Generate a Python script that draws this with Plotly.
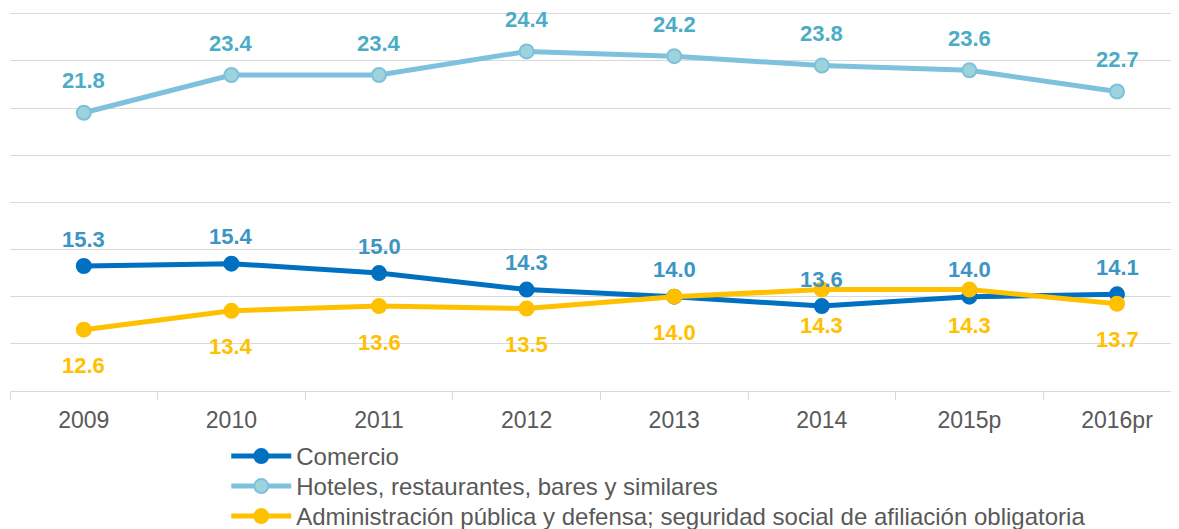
import plotly.graph_objects as go

# categorías y series
years = ["2009", "2010", "2011", "2012", "2013", "2014", "2015p", "2016pr"]
comercio = [15.3, 15.4, 15.0, 14.3, 14.0, 13.6, 14.0, 14.1]
hoteles = [21.8, 23.4, 23.4, 24.4, 24.2, 23.8, 23.6, 22.7]
administracion = [12.6, 13.4, 13.6, 13.5, 14.0, 14.3, 14.3, 13.7]

FONT = "Liberation Sans, Arial, sans-serif"
LABEL_SIZE = 22
TEXT_COLOR = "#595959"

# (nombre, valores, color línea, relleno marcador, color etiqueta, desplazamiento etiqueta, leyenda)
series = [
    ("Hoteles, restaurantes, bares y similares", hoteles,
     "#7EC1DD", "#9DD3DA", "#4BACC6", 32, "legend2"),
    ("Comercio", comercio,
     "#0070C0", "#0070C0", "#3D95C4", 27, "legend"),
    ("Administración pública y defensa; seguridad social de afiliación obligatoria",
     administracion, "#FFC000", "#FFC000", "#FFC000", -36, "legend3"),
]

fig = go.Figure()

for name, values, line_color, fill, label_color, shift, legend in series:
    fig.add_trace(go.Scatter(
        x=years, y=values,
        mode="lines+markers",
        name=name,
        legend=legend,
        line=dict(color=line_color, width=5),
        marker=dict(size=14, color=fill, line=dict(color=line_color, width=2)),
        cliponaxis=False,
    ))
    # etiquetas de datos (posición por índice de categoría: "2009" se leería como número)
    for i, v in enumerate(values):
        fig.add_annotation(
            x=i, y=v, text=f"{v:.1f}", showarrow=False,
            yshift=shift, yanchor="middle",
            font=dict(family=FONT, size=LABEL_SIZE, color=label_color, weight="bold"),
        )

legend_style = dict(
    orientation="v",
    x=0.185, xanchor="left",
    yref="container", yanchor="top",
    font=dict(family=FONT, size=24, color=TEXT_COLOR),
    itemwidth=60,
    bgcolor="rgba(0,0,0,0)",
)

# la página añade 8 px de margen al cuerpo: la figura se reduce en consecuencia
fig.update_layout(
    width=1171, height=521,
    margin=dict(l=2, r=0, t=1, b=138, autoexpand=False),
    plot_bgcolor="white", paper_bgcolor="white",
    font=dict(family=FONT, size=23, color=TEXT_COLOR),
    showlegend=True,
    legend=dict(legend_style, y=0.1823),
    legend2=dict(legend_style, y=0.1248),
    legend3=dict(legend_style, y=0.0672),
)

fig.update_xaxes(
    type="category",
    range=[-0.5, 7.42],
    automargin=False,
    showgrid=False,
    showline=True, linecolor="#D9D9D9", linewidth=1,
    ticks="outside", tickson="boundaries", ticklen=8, tickcolor="#D9D9D9",
    ticklabelstandoff=8,
    tickfont=dict(family=FONT, size=23, color=TEXT_COLOR),
)

fig.update_yaxes(
    range=[10, 26.2],
    tickvals=[10, 12, 14, 16, 18, 20, 22, 24, 26],
    automargin=False,
    showgrid=True, gridcolor="#D9D9D9", gridwidth=1,
    showticklabels=False,
    zeroline=False,
)

fig.write_html("out.html")
